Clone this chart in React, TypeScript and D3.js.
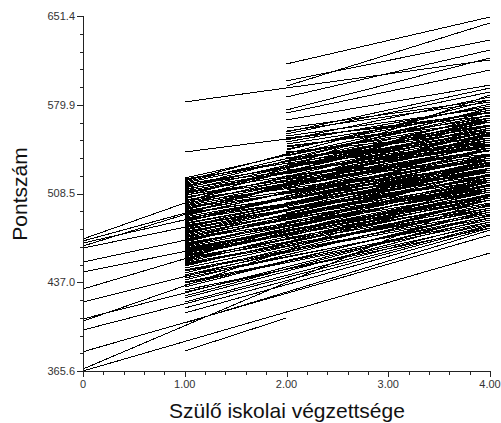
import React from 'react'
import * as d3 from 'd3'

// regression lines per school, [value at start, value at x=4]
const fromZero: [number, number][] = [
  [471.9, 587.8], [470.3, 559.6], [468.6, 543.5], [466.2, 567.7], [464.6, 531.4],
  [453.3, 523.4], [445.3, 511.3], [431.6, 529.0], [421.1, 503.3], [407.5, 491.2],
  [405.8, 519.4], [398.6, 483.1], [381.1, 475.1], [367.2, 506.5], [365.6, 460.6],
]

const fromOne: [number, number][] = [
  [582.2, 616.0], [541.9, 573.3], [521.0, 575.7], [519.4, 563.6], [518.6, 583.8],
  [516.9, 569.3], [516.1, 555.6], [514.5, 561.2], [513.7, 577.3], [512.1, 551.6],
  [511.3, 566.1], [509.7, 547.5], [508.9, 558.0], [507.3, 543.5], [506.5, 571.7],
  [504.9, 553.2], [503.3, 539.5], [502.5, 561.2], [500.9, 535.5], [499.2, 550.0],
  [498.4, 543.5], [496.8, 531.4], [495.2, 555.6], [494.4, 537.1], [492.8, 527.4],
  [491.2, 545.1], [489.6, 533.9], [488.8, 523.4], [486.4, 539.5], [484.7, 529.0],
  [482.3, 521.0], [480.7, 535.5], [479.1, 525.8], [477.5, 517.8], [475.9, 531.4],
  [474.3, 515.3], [472.7, 523.4], [471.1, 511.3], [469.4, 527.4], [467.8, 512.9],
  [466.2, 519.4], [464.6, 507.3], [463.0, 515.3], [461.4, 504.9], [459.8, 521.0],
  [458.2, 509.7], [456.6, 500.9], [454.2, 512.9], [452.5, 496.8], [450.1, 506.5],
  [446.9, 493.6], [444.5, 503.3], [442.1, 488.8], [438.9, 499.2], [436.4, 485.6],
  [433.2, 495.2], [430.8, 480.7], [426.0, 491.2], [421.1, 485.6], [412.3, 480.7],
  [404.2, 479.1],
  [520.2, 558.0], [517.8, 574.1], [515.3, 547.5], [512.9, 567.7], [510.5, 553.2],
  [508.1, 562.8], [505.7, 542.9], [504.1, 569.3], [501.7, 546.7], [500.0, 557.2],
  [497.6, 535.5], [496.0, 551.6], [493.6, 540.3], [492.0, 530.6], [490.4, 548.3],
  [488.0, 537.1], [487.2, 525.8], [485.6, 543.5], [483.9, 532.2], [483.1, 519.4],
  [481.5, 538.7], [479.9, 527.4], [478.3, 514.5], [476.7, 533.9], [475.1, 523.4],
  [473.5, 529.0], [471.9, 517.8], [470.3, 524.2], [468.6, 509.7], [467.0, 521.0],
  [465.4, 514.5], [463.8, 506.5], [462.2, 516.1], [460.6, 503.3], [459.0, 511.3],
  [457.4, 517.8], [455.8, 504.9], [455.0, 498.4], [453.3, 508.1], [451.7, 495.2],
  [450.9, 503.3], [448.5, 500.0], [446.1, 492.0], [442.9, 496.8], [440.5, 490.4],
  [437.2, 487.2], [434.8, 493.6], [429.2, 484.0], [424.4, 488.8], [416.3, 482.3],
]

const oneToTwo: [number, number][] = [
  [381.7, 408.3],
]

const fromTwo: [number, number][] = [
  [612.8, 650.6], [599.1, 632.1], [595.0, 645.8], [586.2, 624.0], [575.7, 617.6],
  [573.3, 607.9], [567.7, 595.8], [561.2, 583.8], [558.0, 593.4], [554.8, 577.3],
  [551.6, 586.2], [548.3, 574.1], [545.9, 569.3], [543.5, 580.5], [541.1, 563.6],
  [538.7, 571.7], [536.3, 559.6], [533.9, 566.1], [531.4, 554.8], [529.0, 561.2],
  [526.6, 550.0], [524.2, 556.4], [521.8, 546.7], [519.4, 551.6], [516.1, 542.9],
  [513.0, 547.5], [509.7, 537.1], [506.5, 543.5], [503.3, 533.1], [499.2, 527.4],
  [495.2, 535.5], [490.4, 522.6], [485.6, 515.3], [479.1, 507.3], [472.7, 500.9],
  [466.2, 496.8],
  [558.8, 582.2], [556.4, 590.2], [553.2, 570.9], [550.0, 578.9], [546.7, 566.1],
  [544.3, 575.7], [541.9, 558.0], [539.5, 567.7], [537.1, 553.2], [534.7, 562.8],
  [532.2, 548.3], [529.8, 558.0], [527.4, 545.1], [525.0, 553.2], [522.6, 540.3],
  [520.2, 548.3], [517.8, 535.5], [514.5, 543.5], [511.3, 530.6], [508.1, 538.7],
  [504.9, 525.8], [500.9, 532.2], [496.8, 521.0], [492.8, 529.0], [488.0, 512.9],
  [482.3, 517.8], [475.9, 506.5], [469.4, 511.3],
]

const yTicks = [365.6, 437.0, 508.5, 579.9, 651.4]
const xTicks = [0, 1, 2, 3, 4]
const xTickLabels = ['0', '1.00', '2.00', '3.00', '4.00']

const W = 501
const H = 423
const font = 'Arial, "Liberation Sans", sans-serif'

export default function App() {
  const x = d3.scaleLinear().domain([0, 4]).range([83, 490])
  const y = d3.scaleLinear().domain([365.6, 651.4]).range([371, 16])

  const segs: { x0: number; x1: number; y0: number; y1: number }[] = []
  fromZero.forEach(d => segs.push({ x0: 0, x1: 4, y0: d[0], y1: d[1] }))
  fromOne.forEach(d => segs.push({ x0: 1, x1: 4, y0: d[0], y1: d[1] }))
  oneToTwo.forEach(d => segs.push({ x0: 1, x1: 2, y0: d[0], y1: d[1] }))
  fromTwo.forEach(d => segs.push({ x0: 2, x1: 4, y0: d[0], y1: d[1] }))

  // minor ticks: 5 steps between the labelled ones
  const yStep = (yTicks[1] - yTicks[0]) / 5
  const yMinor = d3.range(0, 21).map(i => yTicks[0] + i * yStep)
  const xMinor = d3.range(0, 21).map(i => i * 0.2)

  const axisColor = '#222'

  return (
    <svg width={W} height={H} style={{ position: 'absolute', left: 0, top: 0, background: '#fff' }}>
      <g>
        {segs.map((s, i) => (
          <line key={i}
            x1={x(s.x0)} y1={y(s.y0)} x2={x(s.x1)} y2={y(s.y1)}
            stroke="#000" strokeWidth={1} shapeRendering="crispEdges" />
        ))}
      </g>

      {/* y axis */}
      <line x1={83.5} x2={83.5} y1={y(651.4)} y2={y(365.6)} stroke={axisColor} shapeRendering="crispEdges" />
      {yMinor.map((v, i) => (
        <line key={'ym' + i} x1={80} x2={83} y1={Math.round(y(v)) + 0.5} y2={Math.round(y(v)) + 0.5}
          stroke={axisColor} shapeRendering="crispEdges" />
      ))}
      {yTicks.map((v, i) => (
        <g key={'yt' + i}>
          <line x1={77} x2={83} y1={Math.round(y(v)) + 0.5} y2={Math.round(y(v)) + 0.5} stroke={axisColor} shapeRendering="crispEdges" />
          <text x={75} y={y(v)} dy="0.35em" textAnchor="end" fontFamily={font} fontSize={11} fill="#333">
            {v.toFixed(1)}
          </text>
        </g>
      ))}

      {/* x axis */}
      <line x1={x(0)} x2={x(4)} y1={371.5} y2={371.5} stroke={axisColor} shapeRendering="crispEdges" />
      {xMinor.map((v, i) => (
        <line key={'xm' + i} x1={Math.round(x(v)) + 0.5} x2={Math.round(x(v)) + 0.5} y1={371} y2={375}
          stroke={axisColor} shapeRendering="crispEdges" />
      ))}
      {xTicks.map((v, i) => (
        <g key={'xt' + i}>
          <line x1={Math.round(x(v)) + 0.5} x2={Math.round(x(v)) + 0.5} y1={371} y2={377} stroke={axisColor} shapeRendering="crispEdges" />
          <text x={x(v)} y={388} textAnchor="middle" fontFamily={font} fontSize={11} fill="#333">
            {xTickLabels[i]}
          </text>
        </g>
      ))}

      <text x={287} y={418} textAnchor="middle" fontFamily={font} fontSize={21} fill="#111">
        Szülő iskolai végzettsége
      </text>
      <text transform={`translate(27,${194}) rotate(-90)`} textAnchor="middle" fontFamily={font} fontSize={21} fill="#111">
        Pontszám
      </text>
    </svg>
  )
}
